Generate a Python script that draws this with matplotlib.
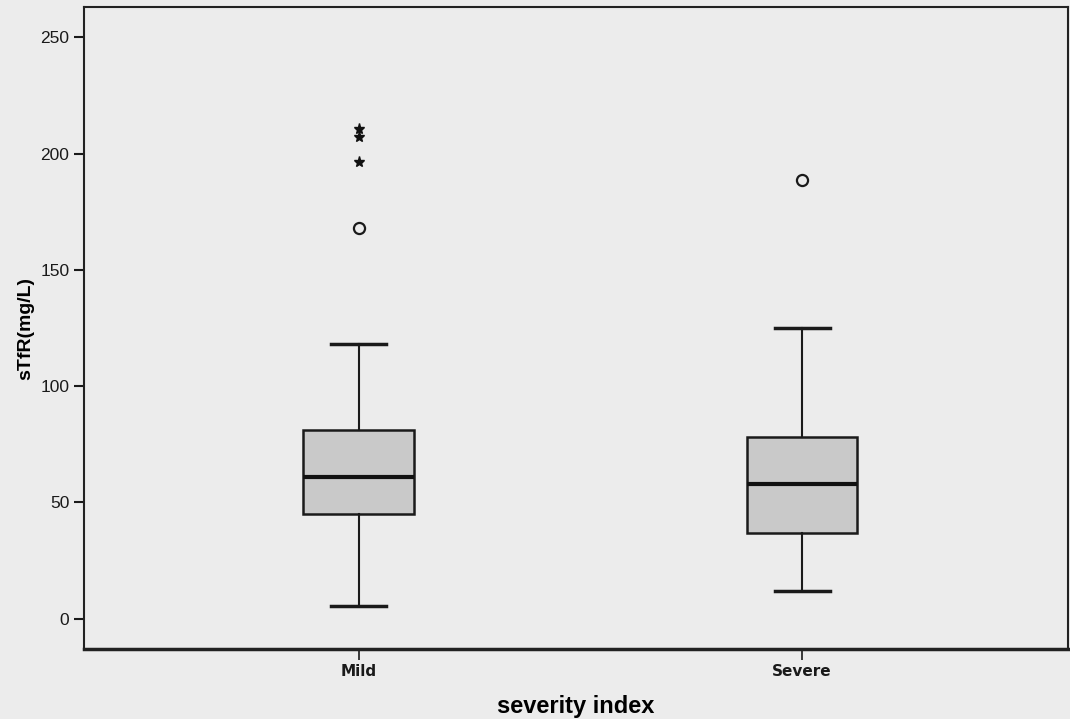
import matplotlib.pyplot as plt

# sTfR by severity group (box statistics, mg/L)
groups = ["Mild", "Severe"]
q1 = [45, 37]
medians = [61, 58]
q3 = [81, 78]
whisker_low = [5.5, 12]
whisker_high = [118, 125]
outliers = [[168], [188.5]]          # mild outliers (circles)
extremes = [[196.5, 207, 210.5], []]  # extreme values (stars)

fig = plt.figure(figsize=(10.7, 7.19), dpi=100)
fig.patch.set_facecolor("#ececec")
ax = fig.add_axes([84 / 1070, 1 - 649 / 719, 984 / 1070, 642 / 719])
ax.set_facecolor("#ececec")

stats = []
for i, g in enumerate(groups):
    stats.append(dict(label=g, q1=q1[i], med=medians[i], q3=q3[i],
                      whislo=whisker_low[i], whishi=whisker_high[i], fliers=[]))

pos = list(range(len(groups)))
ax.bxp(stats, positions=pos, widths=0.25, patch_artist=True, showfliers=False,
       boxprops=dict(facecolor="#c9c9c9", edgecolor="#1a1a1a", linewidth=1.8),
       medianprops=dict(color="#111111", linewidth=3),
       whiskerprops=dict(color="#1a1a1a", linewidth=1.5),
       capprops=dict(color="#1a1a1a", linewidth=2.5), capwidths=0.124)

for i in pos:
    if outliers[i]:
        ax.plot([i] * len(outliers[i]), outliers[i], "o", ms=8, mfc="none",
                mec="#1a1a1a", mew=1.6)
    if extremes[i]:
        ax.plot([i] * len(extremes[i]), extremes[i], "*", ms=8, color="#111111")

ax.set_xlim(-0.62, 1.6)
ax.set_ylim(-13, 263)
ax.set_yticks([0, 50, 100, 150, 200, 250])
ax.set_xticks(pos)
ax.set_xticklabels(groups, fontweight="bold", fontsize=11,
                   family="Liberation Sans Narrow")
ax.tick_params(axis="y", labelsize=12.5, length=7, width=1.5, colors="#1a1a1a")
ax.tick_params(axis="x", length=8, width=1.2, pad=3, colors="#1a1a1a")
for lbl in ax.get_yticklabels():
    lbl.set_family("Liberation Sans")

for side in ["left", "right", "top"]:
    ax.spines[side].set_linewidth(1.5)
    ax.spines[side].set_color("#222222")
ax.spines["bottom"].set_linewidth(2.5)
ax.spines["bottom"].set_color("#222222")

ax.set_ylabel("sTfR(mg/L)", fontsize=14, fontweight="bold",
              family="Liberation Sans", labelpad=4)
ax.set_xlabel("severity index", fontsize=17, fontweight="bold",
              family="Liberation Sans", labelpad=11)

fig.savefig("out.png", dpi=100, facecolor=fig.get_facecolor())
